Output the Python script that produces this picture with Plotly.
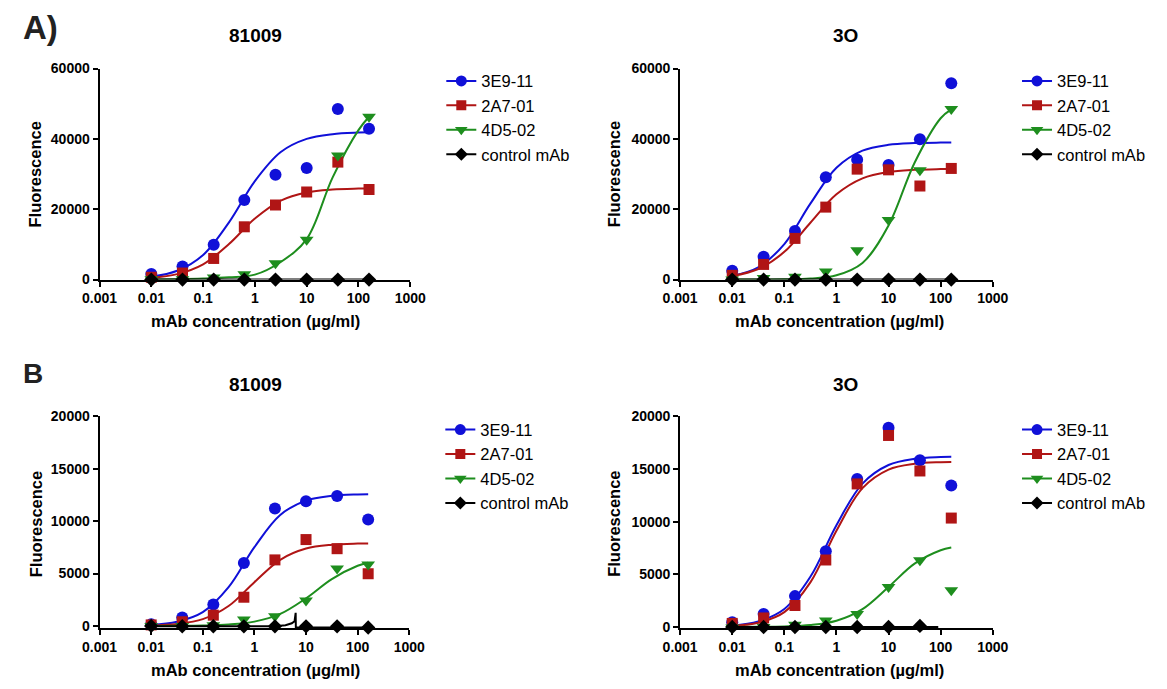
import plotly.graph_objects as go

W, H = 1167, 689

# ---------------- data ----------------
conc = [0.01, 0.04, 0.16, 0.625, 2.5, 10, 40, 160]
fit_x = [0.01, 0.0316, 0.1, 0.316, 1, 3.16, 10, 31.6, 100, 160]
series_names = ["3E9-11", "2A7-01", "4D5-02", "control mAb"]
panel_titles = ["81009", "3O", "81009", "3O"]
panel_labels = ["A)", "B"]
x_ticks = [0.001, 0.01, 0.1, 1, 10, 100, 1000]
x_ticktext = ["0.001", "0.01", "0.1", "1", "10", "100", "1000"]
yticks_A = [0, 20000, 40000, 60000]
yticks_B = [0, 5000, 10000, 15000, 20000]

# Panel A / 81009
a1_3e9 = [1570, 3700, 9900, 22600, 29800, 31700, 48500, 42900]
a1_2a7 = [650, 1850, 6000, 15000, 21200, 24900, 33400, 25600]
a1_4d5 = [100, 100, 600, 1500, 4600, 11300, 35300, 46300]
a1_ctrl = [0, 0, 0, 0, 0, 0, 0, 0]
a1_fit_3e9 = [824, 2500, 7000, 16280, 28000, 36270, 40000, 41350, 41790, 41870]
a1_fit_2a7 = [510, 1548, 4333, 10080, 17333, 22450, 24760, 25600, 25870, 25920]
a1_fit_4d5 = [0, 90, 280, 650, 1400, 5000, 11500, 29000, 42500, 46300]
a1_fit_ctrl_x = [0.01, 160]
a1_fit_ctrl = [0, 0]

# Panel A / 3O
a2_3e9 = [2500, 6500, 13800, 29100, 34100, 32600, 39900, 55800]
a2_2a7 = [1200, 4300, 11700, 20600, 31400, 31200, 26600, 31600]
a2_4d5 = [0, 460, 830, 2300, 8300, 16900, 31100, 48500]
a2_ctrl = [0, 0, 0, 0, 0, 0, 0, 0]
a2_fit_3e9 = [1054, 3495, 10100, 21580, 31780, 36650, 38310, 38800, 38945, 38970]
a2_fit_2a7 = [1016, 3003, 7875, 16160, 24230, 28770, 30580, 31200, 31406, 31440]
a2_fit_4d5 = [4, 16, 69, 290, 1200, 4710, 15390, 33230, 45870, 48400]
a2_fit_ctrl_x = [0.01, 160]
a2_fit_ctrl = [0, 0]

# Panel B / 81009
b1_3e9 = [150, 800, 2050, 6000, 11200, 11900, 12400, 10150]
b1_2a7 = [100, 400, 1030, 2740, 6300, 8240, 7370, 4980]
b1_4d5 = [0, 0, 60, 620, 930, 2430, 5470, 5850]
b1_ctrl = [0, -30, -30, -40, -40, -40, -40, -150]
b1_fit_3e9 = [117, 404, 1326, 3706, 7518, 10590, 11960, 12410, 12550, 12570]
b1_fit_2a7 = [56, 194, 647, 1900, 4180, 6310, 7380, 7745, 7856, 7870]
b1_fit_4d5 = [4, 14, 44, 136, 412, 1148, 2640, 4475, 5740, 6034]
b1_fit_ctrl_x = [0.01, 2.5, 4.0, 5.3, 6.0, 6.3, 6.35, 160]
b1_fit_ctrl = [-30, -20, 60, 250, 450, 1250, -150, -150]

# Panel B / 3O
b2_conc_ctrl = [0.01, 0.04, 0.16, 0.625, 2.5, 10, 40]
b2_3e9 = [460, 1230, 2930, 7190, 14040, 18920, 15830, 13420]
b2_2a7 = [340, 860, 2040, 6360, 13580, 18180, 14810, 10340]
b2_4d5 = [-50, 0, 216, 620, 1230, 3800, 6330, 3490]
b2_ctrl = [0, 0, 0, 0, 0, 0, 100]
b2_fit_3e9 = [150, 519, 1705, 4765, 9666, 13613, 15375, 15960, 16131, 16159]
b2_fit_2a7 = [109, 400, 1408, 4240, 9140, 13180, 14940, 15490, 15644, 15667]
b2_fit_4d5 = [5, 17, 57, 188, 597, 1700, 3800, 6015, 7283, 7545]
b2_fit_ctrl_x = [0.01, 90]
b2_fit_ctrl = [0, 0]

# ---------------- styles ----------------
colors = ["#1010D8", "#B01515", "#1E8E1E", "#000000"]
symbols = ["circle", "square", "triangle-down", "diamond"]
msizes = [12, 11, 12, 11]
FONT = "Liberation Sans, Arial, sans-serif"


def px_x(p):
    return p / W


def px_y(p):
    return 1 - p / H


panels = [
    dict(xd=(84, 404), yd=(62, 278), yr=[0, 60000], yt=yticks_A,
         pts=[(conc, a1_3e9), (conc, a1_2a7), (conc, a1_4d5), (conc, a1_ctrl)],
         fits=[(fit_x, a1_fit_3e9, "spline"), (fit_x, a1_fit_2a7, "spline"),
               (fit_x, a1_fit_4d5, "spline"), (a1_fit_ctrl_x, a1_fit_ctrl, "linear")],
         title=(245, 28), xt=(245, 320), yt_pos=(18, 170), leg=(436, 57)),
    dict(xd=(682, 1004), yd=(62, 278), yr=[0, 60000], yt=yticks_A,
         pts=[(conc, a2_3e9), (conc, a2_2a7), (conc, a2_4d5), (conc, a2_ctrl)],
         fits=[(fit_x, a2_fit_3e9, "spline"), (fit_x, a2_fit_2a7, "spline"),
               (fit_x, a2_fit_4d5, "spline"), (a2_fit_ctrl_x, a2_fit_ctrl, "linear")],
         title=(852, 28), xt=(846, 320), yt_pos=(614, 170), leg=(1029, 57)),
    dict(xd=(84, 403), yd=(418, 635), yr=[-220, 20000], yt=yticks_B,
         pts=[(conc, b1_3e9), (conc, b1_2a7), (conc, b1_4d5), (conc, b1_ctrl)],
         fits=[(fit_x, b1_fit_3e9, "spline"), (fit_x, b1_fit_2a7, "spline"),
               (fit_x, b1_fit_4d5, "spline"), (b1_fit_ctrl_x, b1_fit_ctrl, "linear")],
         title=(245, 385), xt=(245, 678), yt_pos=(18, 528), leg=(435, 414)),
    dict(xd=(682, 1004), yd=(418, 635), yr=[-120, 20000], yt=yticks_B,
         pts=[(conc, b2_3e9), (conc, b2_2a7), (conc, b2_4d5), (b2_conc_ctrl, b2_ctrl)],
         fits=[(fit_x, b2_fit_3e9, "spline"), (fit_x, b2_fit_2a7, "spline"),
               (fit_x, b2_fit_4d5, "spline"), (b2_fit_ctrl_x, b2_fit_ctrl, "linear")],
         title=(852, 385), xt=(846, 678), yt_pos=(614, 528), leg=(1029, 414)),
]

fig = go.Figure()
annotations = []
layout = dict(
    width=W, height=H, autosize=False,
    margin=dict(l=0, r=0, t=0, b=0),
    paper_bgcolor="white", plot_bgcolor="white",
    font=dict(family=FONT, color="black"),
)

for i, p in enumerate(panels):
    n = "" if i == 0 else str(i + 1)
    xa, ya = "x" + n, "y" + n
    leg = "legend" + n
    layout["xaxis" + n] = dict(
        domain=[px_x(p["xd"][0]), px_x(p["xd"][1])], anchor=ya, type="log",
        range=[-3, 3], tickvals=x_ticks, ticktext=x_ticktext,
        showline=True, linecolor="black", linewidth=2, ticks="outside",
        tickwidth=2, ticklen=5, tickcolor="black", showgrid=False, zeroline=False,
        tickfont=dict(family=FONT, size=14, weight="bold", color="black"),
    )
    layout["yaxis" + n] = dict(
        domain=[px_y(p["yd"][1]), px_y(p["yd"][0])], anchor=xa,
        range=p["yr"], tickvals=p["yt"], tickformat="d",
        showline=True, linecolor="black", linewidth=2, ticks="outside",
        tickwidth=2, ticklen=5, tickcolor="black", showgrid=False, zeroline=False,
        tickfont=dict(family=FONT, size=14, weight="bold", color="black"),
    )
    layout[leg] = dict(
        x=px_x(p["leg"][0]), y=px_y(p["leg"][1]), xanchor="left", yanchor="top",
        bgcolor="rgba(0,0,0,0)", borderwidth=0,
        font=dict(family=FONT, size=16.5, color="black"),
        tracegroupgap=0, traceorder="normal", itemwidth=30,
    )
    for k in range(4):
        fx, fy, shape = p["fits"][k]
        fig.add_trace(go.Scatter(
            x=fx, y=fy, mode="lines", xaxis=xa, yaxis=ya,
            line=dict(color=colors[k], width=2, shape=shape, smoothing=1.0),
            showlegend=False, hoverinfo="skip",
        ))
    for k in range(4):
        px_, py_ = p["pts"][k]
        fig.add_trace(go.Scatter(
            x=px_, y=py_, mode="markers", xaxis=xa, yaxis=ya, cliponaxis=False,
            marker=dict(color=colors[k], symbol=symbols[k], size=msizes[k], line=dict(width=0)),
            showlegend=False, name=series_names[k],
        ))
    for k in range(4):
        fig.add_trace(go.Scatter(
            x=[None], y=[None], mode="lines+markers", xaxis=xa, yaxis=ya,
            name=series_names[k], legend=leg,
            line=dict(color=colors[k], width=2),
            marker=dict(color=colors[k], symbol=symbols[k], size=msizes[k] - 1),
            showlegend=True,
        ))
    tx, ty = p["title"]
    annotations.append(dict(text="<b>%s</b>" % panel_titles[i], x=px_x(tx), y=px_y(ty),
                            xref="paper", yref="paper", showarrow=False,
                            font=dict(family=FONT, size=19, color="black"),
                            xanchor="center", yanchor="middle"))
    ax_, ay_ = p["xt"]
    annotations.append(dict(text="<b>mAb concentration (µg/ml)</b>", x=px_x(ax_), y=px_y(ay_),
                            xref="paper", yref="paper", showarrow=False,
                            font=dict(family=FONT, size=16.5, color="black"),
                            xanchor="center", yanchor="middle"))
    bx_, by_ = p["yt_pos"]
    annotations.append(dict(text="<b>Fluorescence</b>", x=px_x(bx_), y=px_y(by_),
                            xref="paper", yref="paper", showarrow=False, textangle=-90,
                            font=dict(family=FONT, size=16.5, color="black"),
                            xanchor="center", yanchor="middle"))

annotations.append(dict(text="<b>%s</b>" % panel_labels[0], x=px_x(3), y=px_y(20),
                        xref="paper", yref="paper", showarrow=False,
                        font=dict(family=FONT, size=33, color="#222222"),
                        xanchor="left", yanchor="middle"))
annotations.append(dict(text="<b>%s</b>" % panel_labels[1], x=px_x(3), y=px_y(374),
                        xref="paper", yref="paper", showarrow=False,
                        font=dict(family=FONT, size=28, color="#222222"),
                        xanchor="left", yanchor="middle"))

layout["annotations"] = annotations
fig.update_layout(**layout)
fig.write_html(
    "out.html",
    config={"displayModeBar": False},
    post_script="document.body.style.margin='0px';document.documentElement.style.overflow='hidden';document.body.style.overflow='hidden';",
)
